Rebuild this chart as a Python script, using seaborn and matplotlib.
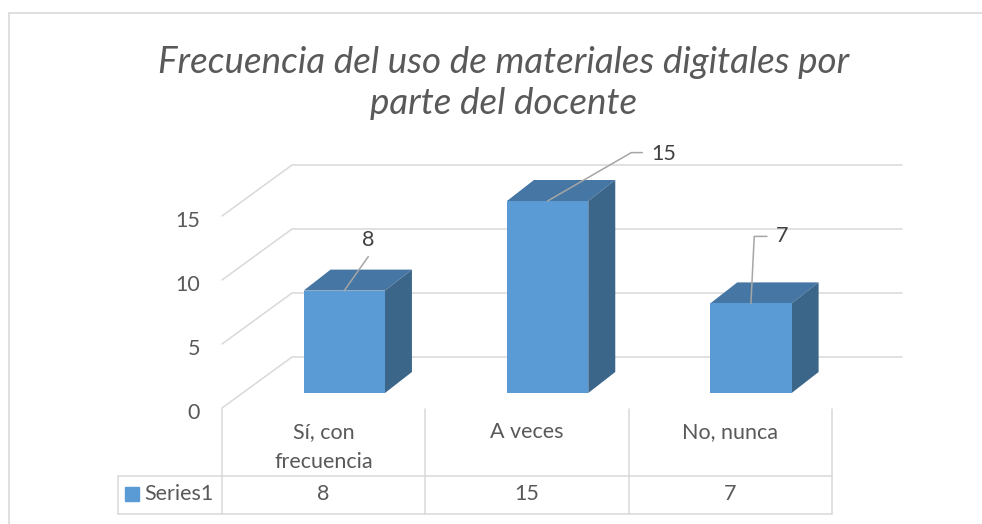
import numpy as np
import pandas as pd
import matplotlib
matplotlib.use("Agg")
import matplotlib.pyplot as plt
import seaborn as sns
from matplotlib.transforms import ScaledTranslation, blended_transform_factory
from matplotlib.patches import Polygon, Rectangle
from matplotlib.lines import Line2D

# ---------------- data ----------------
categories = ["Sí, con\nfrecuencia", "A veces", "No, nunca"]
values = [8, 15, 7]
series_name = "Series1"
y_ticks = [0, 5, 10, 15]
title = "Frecuencia del uso de materiales digitales por\nparte del docente"

# ---------------- style ----------------
FRONT = "#5B9BD5"
TOP = "#4676A4"
SIDE = "#3B6589"
GRID = "#D9D9D9"
TEXT = "#595959"
LABEL = "#404040"
LEADER = "#A6A6A6"

W, H, DPI = 982, 524, 100
sns.set_style("white")
plt.rcParams["font.family"] = ["Lato", "DejaVu Sans"]

fig = plt.figure(figsize=(W / DPI, H / DPI), dpi=DPI, facecolor="white")


def px_box(left, top, right, bottom):
    return [left / W, 1 - bottom / H, (right - left) / W, (bottom - top) / H]


# geometry of the pseudo-3D view (pixels)
PLOT_L, PLOT_R, PLOT_T, PLOT_B = 222, 832, 216, 408   # front edge of the floor
DEPTH_PX = (70, 51)          # floor front -> back wall
BAR_PLANE_PX = (20.6, 15)    # floor front -> bar front face
BAR_DEPTH_PX = (27, 21)      # bar thickness
n = len(categories)
xunit = (PLOT_R - PLOT_L) / n
yunit = (PLOT_B - PLOT_T) / (y_ticks[-1] - y_ticks[0])

# ---- front plane axes (ticks, walls, data table)
ax = fig.add_axes(px_box(PLOT_L, PLOT_T, PLOT_R, PLOT_B))
ax.set_facecolor("none")
ax.set_xlim(-0.5, n - 0.5)
ax.set_ylim(y_ticks[0], y_ticks[-1])
for s in ax.spines.values():
    s.set_visible(False)
ax.set_xticks([])
ax.set_yticks(y_ticks)
ax.set_yticklabels([str(v) for v in y_ticks])
ax.tick_params(axis="y", length=0, pad=22 * 72 / DPI, labelsize=15.5, labelcolor=TEXT)
for lab in ax.get_yticklabels():
    lab.set_transform(lab.get_transform() + ScaledTranslation(0, -3 / DPI, fig.dpi_scale_trans))

DX = DEPTH_PX[0] / xunit
DY = DEPTH_PX[1] / yunit
for v in y_ticks:
    ax.plot([-0.5, -0.5 + DX, n - 0.5 + DX], [v, v + DY, v + DY],
            color=GRID, lw=1.1, clip_on=False, zorder=0, solid_joinstyle="miter")

# ---- data table
tr = blended_transform_factory(ax.transData, ax.transAxes)


def fy(ypx):
    return (PLOT_B - ypx) / (PLOT_B - PLOT_T)


ROW_TOP, ROW_MID, ROW_BOT = 409, 476, 513.5
leg_left = -0.5 - 104 / xunit
tl = dict(color=GRID, lw=1.1, transform=tr, clip_on=False, zorder=0)
ax.plot([-0.5, -0.5], [fy(ROW_TOP), fy(ROW_BOT)], **tl)
for i in range(n):
    ax.plot([i + 0.5, i + 0.5], [fy(ROW_TOP), fy(ROW_BOT)], **tl)
for yy in (ROW_MID, ROW_BOT):
    ax.plot([leg_left, n - 0.5], [fy(yy), fy(yy)], **tl)
ax.plot([leg_left, leg_left], [fy(ROW_MID), fy(ROW_BOT)], **tl)

for i, cat in enumerate(categories):
    ax.text(i, fy(422), cat, transform=tr, ha="center", va="top", fontsize=15.5,
            color=TEXT, linespacing=1.6, clip_on=False)
for i, v in enumerate(values):
    ax.text(i, fy(494.5), str(v), transform=tr, ha="center", va="center",
            fontsize=15.5, color=TEXT, clip_on=False)
ax.add_patch(Rectangle((leg_left + 7 / xunit, fy(501)), 14 / xunit, 14 / (PLOT_B - PLOT_T),
                       transform=tr, color=FRONT, clip_on=False))
ax.text(leg_left + 26 / xunit, fy(494.5), series_name, transform=tr, ha="left",
        va="center", fontsize=15.5, color=TEXT, clip_on=False)

# ---- bar plane axes
axb = fig.add_axes(px_box(PLOT_L + BAR_PLANE_PX[0], PLOT_T - BAR_PLANE_PX[1],
                          PLOT_R + BAR_PLANE_PX[0], PLOT_B - BAR_PLANE_PX[1]))
df = pd.DataFrame({"cat": categories, "val": values})
sns.barplot(data=df, x="cat", y="val", ax=axb, color=FRONT, saturation=1,
            width=0.4, linewidth=0, zorder=3)
axb.set_xlim(-0.5, n - 0.5)
axb.set_ylim(y_ticks[0], y_ticks[-1])
axb.set_axis_off()

dxb = BAR_DEPTH_PX[0] / xunit
dyb = BAR_DEPTH_PX[1] / yunit
for p in axb.patches[:]:
    x0, w, h = p.get_x(), p.get_width(), p.get_height()
    axb.add_patch(Polygon([(x0, h), (x0 + w, h), (x0 + w + dxb, h + dyb), (x0 + dxb, h + dyb)],
                          closed=True, facecolor=TOP, edgecolor="none", clip_on=False, zorder=2))
    axb.add_patch(Polygon([(x0 + w, 0), (x0 + w + dxb, dyb), (x0 + w + dxb, h + dyb), (x0 + w, h)],
                          closed=True, facecolor=SIDE, edgecolor="none", clip_on=False, zorder=2))

# ---- data labels with leader lines (offsets in pixels from bar top)
leader_paths = [[(0, 0), (24, 34)],
                [(0, 0), (83.7, 48.4), (94.7, 48.4)],
                [(0, 0), (3.3, 67), (16, 67)]]
label_pos = [(23.5, 51, "center"), (103.7, 47, "left"), (25.3, 67, "left")]
bars = sorted(axb.patches[:n], key=lambda p: p.get_x())
for bar, v, path, (lx, ly, ha) in zip(bars, values, leader_paths, label_pos):
    xc = bar.get_x() + bar.get_width() / 2
    trans = fig.dpi_scale_trans + ScaledTranslation(xc, v, axb.transData)
    xs = [q[0] / DPI for q in path]
    ys = [q[1] / DPI for q in path]
    axb.plot(xs, ys, transform=trans, color=LEADER, lw=1.1, clip_on=False, zorder=5)
    axb.text(lx / DPI, ly / DPI, str(v), transform=trans, ha=ha, va="center",
             fontsize=15.5, color=LABEL, clip_on=False, zorder=6)

# ---- title & chart frame
fig.text(504 / W, 1 - 83 / H, title, ha="center", va="center", fontsize=26.5,
         style="italic", color=TEXT, linespacing=1.33)
fig.add_artist(Line2D([9 / W, 1], [1 - 13 / H, 1 - 13 / H], color=GRID, lw=1.2,
                      transform=fig.transFigure))
fig.add_artist(Line2D([9 / W, 9 / W], [0, 1 - 13 / H], color=GRID, lw=1.2,
                      transform=fig.transFigure))

fig.savefig("out.png", dpi=DPI, facecolor="white")
